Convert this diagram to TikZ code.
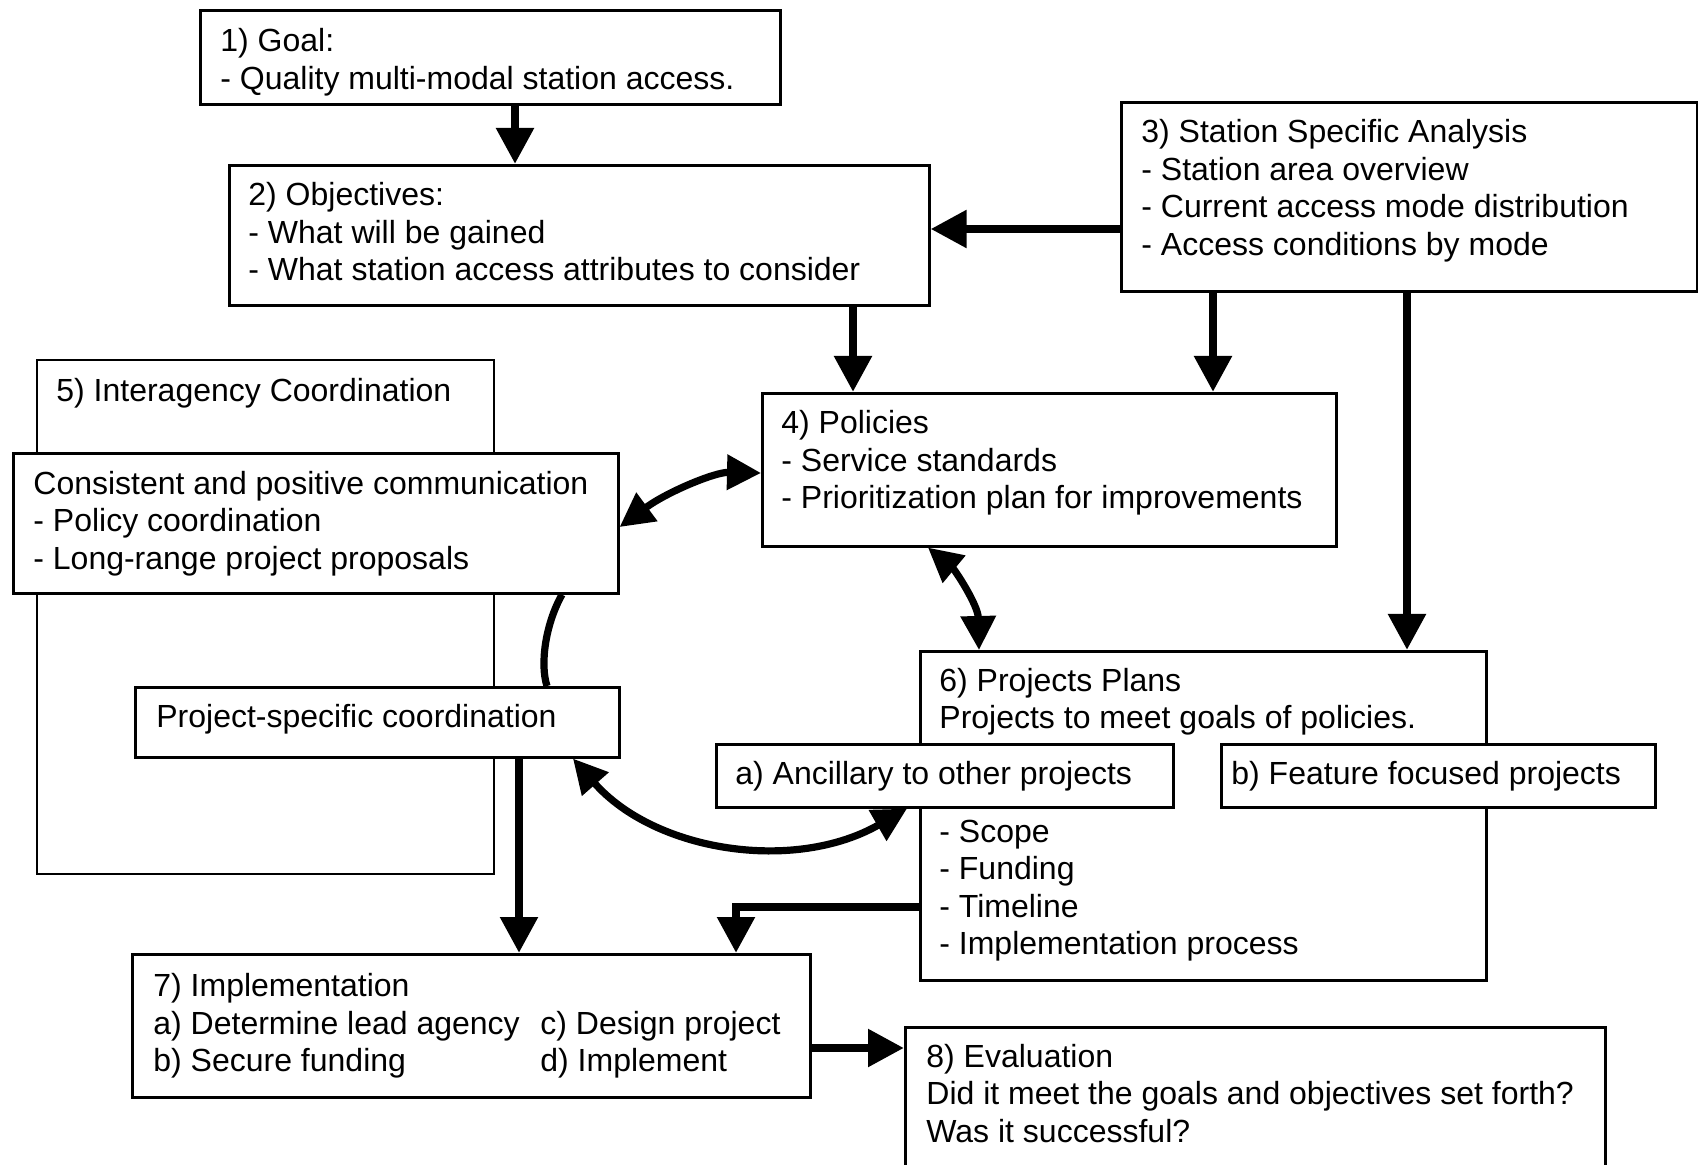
\documentclass[tikz,border=0pt]{standalone}
\usepackage{fontspec}
\setmainfont{Liberation Sans}
\usetikzlibrary{arrows.meta,calc}
\newcommand{\lns}[1]{\begin{tabular}[t]{@{}l@{}}#1\end{tabular}}
\begin{document}
\begin{tikzpicture}[x=0.5pt,y=-0.5pt,
  box/.style={draw, line width=1.3pt, fill=white, inner sep=0pt, anchor=north west, rectangle},
  thinbox/.style={box, line width=0.8pt},
  txt/.style={inner sep=0pt, anchor=base west, font=\fontsize{16}{18.75}\selectfont},
  arr/.style={line width=4.2pt, -{Triangle[length=18pt,width=18pt]}},
  darr/.style={line width=3.6pt, {Triangle[length=17pt,width=17pt]}-{Triangle[length=17pt,width=17pt]}},
  plaincurve/.style={line width=3.6pt},
]
\path[use as bounding box, clip] (0,0) rectangle (1698,1165);

% boxes
\node[box, minimum width=290pt, minimum height=47pt] (g) at (199,9) {};
\node[box, minimum width=350pt, minimum height=70pt] (o) at (228,164) {};
\node[box, minimum width=288pt, minimum height=94.5pt] (s) at (1120,101) {};
\node[box, minimum width=287pt, minimum height=76.5pt] (p) at (761,392) {};
\node[thinbox, minimum width=228.5pt, minimum height=257pt] (i) at (36,359) {};
\node[box, minimum width=302.5pt, minimum height=70pt] (c) at (12,452) {};
\node[box, minimum width=242pt, minimum height=35pt] (ps) at (134,686) {};
\node[box, minimum width=283pt, minimum height=164.5pt] (pp) at (919,650) {};
\node[box, minimum width=228.5pt, minimum height=31.5pt] (an) at (715,743) {};
\node[box, minimum width=217pt, minimum height=31.5pt] (fe) at (1220,743) {};
\node[box, minimum width=339pt, minimum height=71.5pt] (im) at (131,953) {};
\node[box, minimum width=350pt, minimum height=80pt] (ev) at (904,1026) {};

% texts
\node[txt] (gt) at (220,52) {\lns{1) Goal:\\- Quality multi-modal station access.}};
\node[txt] (ot) at (248,206) {\lns{2) Objectives:\\- What will be gained\\- What station access attributes to consider}};
\node[txt] (st) at (1141,143) {\lns{3) Station Specific Analysis\\- Station area overview\\- Current access mode distribution\\- Access conditions by mode}};
\node[txt] (pt) at (781,434) {\lns{4) Policies\\- Service standards\\- Prioritization plan for improvements}};
\node[txt] (it) at (56,401.5) {5) Interagency Coordination};
\node[txt] (ct) at (33,494.5) {\lns{Consistent and positive communication\\- Policy coordination\\- Long-range project proposals}};
\node[txt] (pst) at (156,727.5) {Project-specific coordination};
\node[txt] (ppt) at (939,691.5) {\lns{6) Projects Plans\\Projects to meet goals of policies.}};
\node[txt] (ppl) at (939,842) {\lns{- Scope\\- Funding\\- Timeline\\- Implementation process}};
\node[txt] (ant) at (735,784.5) {a) Ancillary to other projects};
\node[txt] (fet) at (1231,784.5) {b) Feature focused projects};
\node[txt] (imt) at (153,996.5) {\lns{7) Implementation\\a) Determine lead agency\\b) Secure funding}};
\node[txt] (imt2) at (540,1034) {\lns{c) Design project\\d) Implement}};
\node[txt] (evt) at (926,1067) {\lns{8) Evaluation\\Did it meet the goals and objectives set forth?\\Was it successful?}};

% straight arrows
\draw[arr] (515,0 |- g.south) -- (515,0 |- o.north);
\draw[arr] (s.west |- 0,229) -- (o.east |- 0,229);
\draw[arr] (853,0 |- o.south) -- (853,0 |- p.north);
\draw[arr] (1213,0 |- s.south) -- (1213,0 |- p.north);
\draw[arr] (1407,0 |- s.south) -- (1407,0 |- pp.north);
\draw[arr] (519,0 |- ps.south) -- (519,0 |- im.north);
\draw[arr] (pp.west |- 0,907) -| (736,0 |- im.north);
\draw[arr] (im.east |- 0,1048) -- (ev.west |- 0,1048);

% curved connectors
\draw[darr] (c.east |- 0,527) .. controls (667,492) and (715,472) .. (p.west |- 0,473);
\draw[darr] (928,0 |- p.south) .. controls (955,570) and (978,605) .. (979,0 |- pp.north);
\draw[plaincurve] (562,0 |- c.south) .. controls (545,625) and (540,665) .. (547,0 |- ps.north);
\draw[darr] (573,0 |- ps.south) .. controls (655,852) and (795,873) .. (907,0 |- an.south);
\end{tikzpicture}
\end{document}
